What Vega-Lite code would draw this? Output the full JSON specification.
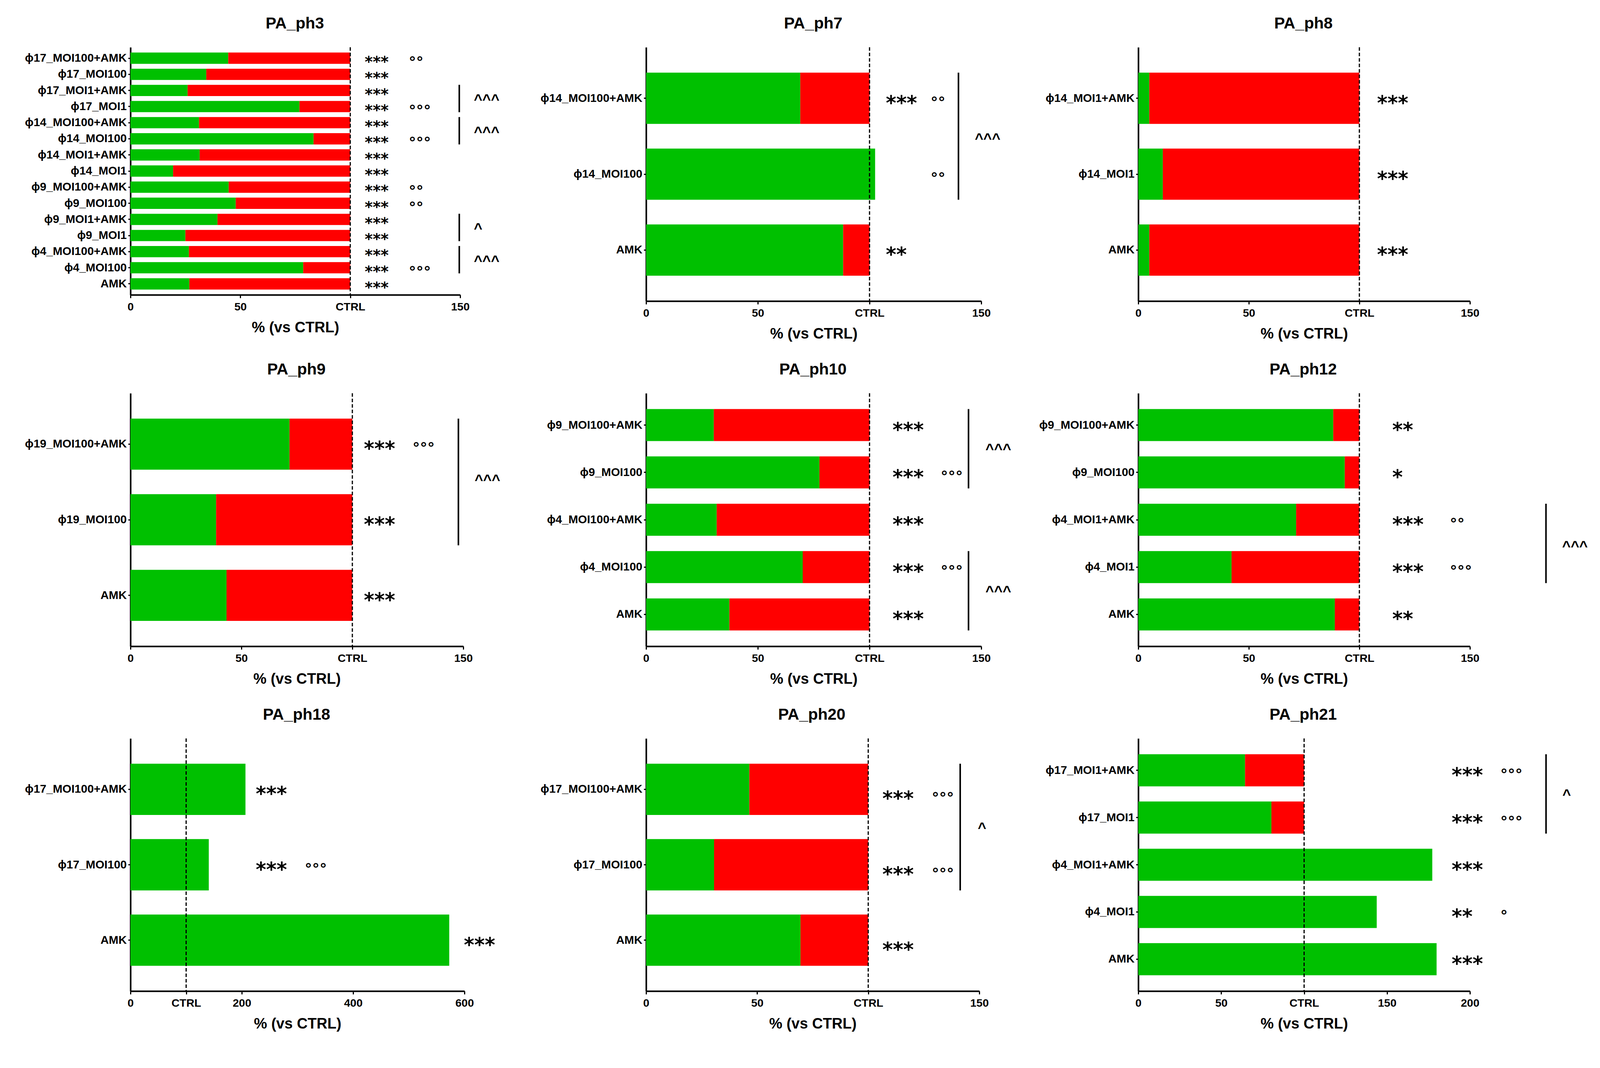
{
"$schema": "https://vega.github.io/schema/vega-lite/v6.json",
"background": "white",
"padding": {"left": 63, "top": 39, "right": 30, "bottom": 40},
"datasets": {
"bars": [
{"panel":"PA_ph3","label":"ϕ17_MOI100+AMK","v":44.5,"stars":"***","circ":"°°"},
{"panel":"PA_ph3","label":"ϕ17_MOI100","v":34.5,"stars":"***","circ":""},
{"panel":"PA_ph3","label":"ϕ17_MOI1+AMK","v":26.0,"stars":"***","circ":""},
{"panel":"PA_ph3","label":"ϕ17_MOI1","v":76.9,"stars":"***","circ":"°°°"},
{"panel":"PA_ph3","label":"ϕ14_MOI100+AMK","v":31.2,"stars":"***","circ":""},
{"panel":"PA_ph3","label":"ϕ14_MOI100","v":83.3,"stars":"***","circ":"°°°"},
{"panel":"PA_ph3","label":"ϕ14_MOI1+AMK","v":31.5,"stars":"***","circ":""},
{"panel":"PA_ph3","label":"ϕ14_MOI1","v":19.4,"stars":"***","circ":""},
{"panel":"PA_ph3","label":"ϕ9_MOI100+AMK","v":44.7,"stars":"***","circ":"°°"},
{"panel":"PA_ph3","label":"ϕ9_MOI100","v":47.9,"stars":"***","circ":"°°"},
{"panel":"PA_ph3","label":"ϕ9_MOI1+AMK","v":39.6,"stars":"***","circ":""},
{"panel":"PA_ph3","label":"ϕ9_MOI1","v":25.0,"stars":"***","circ":""},
{"panel":"PA_ph3","label":"ϕ4_MOI100+AMK","v":26.6,"stars":"***","circ":""},
{"panel":"PA_ph3","label":"ϕ4_MOI100","v":78.6,"stars":"***","circ":"°°°"},
{"panel":"PA_ph3","label":"AMK","v":26.8,"stars":"***","circ":""},
{"panel":"PA_ph7","label":"ϕ14_MOI100+AMK","v":69.0,"stars":"***","circ":"°°"},
{"panel":"PA_ph7","label":"ϕ14_MOI100","v":102.5,"stars":"","circ":"°°"},
{"panel":"PA_ph7","label":"AMK","v":88.2,"stars":"**","circ":""},
{"panel":"PA_ph8","label":"ϕ14_MOI1+AMK","v":5.0,"stars":"***","circ":""},
{"panel":"PA_ph8","label":"ϕ14_MOI1","v":11.1,"stars":"***","circ":""},
{"panel":"PA_ph8","label":"AMK","v":5.0,"stars":"***","circ":""},
{"panel":"PA_ph9","label":"ϕ19_MOI100+AMK","v":71.7,"stars":"***","circ":"°°°"},
{"panel":"PA_ph9","label":"ϕ19_MOI100","v":38.6,"stars":"***","circ":""},
{"panel":"PA_ph9","label":"AMK","v":43.3,"stars":"***","circ":""},
{"panel":"PA_ph10","label":"ϕ9_MOI100+AMK","v":30.3,"stars":"***","circ":""},
{"panel":"PA_ph10","label":"ϕ9_MOI100","v":77.6,"stars":"***","circ":"°°°"},
{"panel":"PA_ph10","label":"ϕ4_MOI100+AMK","v":31.6,"stars":"***","circ":""},
{"panel":"PA_ph10","label":"ϕ4_MOI100","v":70.1,"stars":"***","circ":"°°°"},
{"panel":"PA_ph10","label":"AMK","v":37.3,"stars":"***","circ":""},
{"panel":"PA_ph12","label":"ϕ9_MOI100+AMK","v":88.2,"stars":"**","circ":""},
{"panel":"PA_ph12","label":"ϕ9_MOI100","v":93.4,"stars":"*","circ":""},
{"panel":"PA_ph12","label":"ϕ4_MOI1+AMK","v":71.4,"stars":"***","circ":"°°"},
{"panel":"PA_ph12","label":"ϕ4_MOI1","v":42.2,"stars":"***","circ":"°°°"},
{"panel":"PA_ph12","label":"AMK","v":88.9,"stars":"**","circ":""},
{"panel":"PA_ph18","label":"ϕ17_MOI100+AMK","v":206.6,"stars":"***","circ":""},
{"panel":"PA_ph18","label":"ϕ17_MOI100","v":140.7,"stars":"***","circ":"°°°"},
{"panel":"PA_ph18","label":"AMK","v":572.7,"stars":"***","circ":""},
{"panel":"PA_ph20","label":"ϕ17_MOI100+AMK","v":46.5,"stars":"***","circ":"°°°"},
{"panel":"PA_ph20","label":"ϕ17_MOI100","v":30.6,"stars":"***","circ":"°°°"},
{"panel":"PA_ph20","label":"AMK","v":69.5,"stars":"***","circ":""},
{"panel":"PA_ph21","label":"ϕ17_MOI1+AMK","v":64.4,"stars":"***","circ":"°°°"},
{"panel":"PA_ph21","label":"ϕ17_MOI1","v":80.3,"stars":"***","circ":"°°°"},
{"panel":"PA_ph21","label":"ϕ4_MOI1+AMK","v":177.3,"stars":"***","circ":""},
{"panel":"PA_ph21","label":"ϕ4_MOI1","v":143.8,"stars":"**","circ":"°"},
{"panel":"PA_ph21","label":"AMK","v":179.9,"stars":"***","circ":""}
],
"brackets": [
{"panel":"PA_ph3","from":"ϕ17_MOI1+AMK","to":"ϕ17_MOI1","mark":"^^^"},
{"panel":"PA_ph3","from":"ϕ14_MOI100+AMK","to":"ϕ14_MOI100","mark":"^^^"},
{"panel":"PA_ph3","from":"ϕ9_MOI1+AMK","to":"ϕ9_MOI1","mark":"^"},
{"panel":"PA_ph3","from":"ϕ4_MOI100+AMK","to":"ϕ4_MOI100","mark":"^^^"},
{"panel":"PA_ph7","from":"ϕ14_MOI100+AMK","to":"ϕ14_MOI100","mark":"^^^"},
{"panel":"PA_ph9","from":"ϕ19_MOI100+AMK","to":"ϕ19_MOI100","mark":"^^^"},
{"panel":"PA_ph10","from":"ϕ9_MOI100+AMK","to":"ϕ9_MOI100","mark":"^^^"},
{"panel":"PA_ph10","from":"ϕ4_MOI100","to":"AMK","mark":"^^^"},
{"panel":"PA_ph12","from":"ϕ4_MOI1+AMK","to":"ϕ4_MOI1","mark":"^^^"},
{"panel":"PA_ph20","from":"ϕ17_MOI100+AMK","to":"ϕ17_MOI100","mark":"^"},
{"panel":"PA_ph21","from":"ϕ17_MOI1+AMK","to":"ϕ17_MOI1","mark":"^"}
]
},
"columns": 3,
"bounds": "flush",
"align": "each",
"spacing": {"row": 236, "column": 0},
"concat": [
{
"width": 1320, "height": 634,
"title": {"text": "PA_ph3", "dx": 346},
"layer": [
{"data": {"name": "bars"}, "transform": [{"filter": "datum.panel == 'PA_ph3'"}],
 "mark": {"type": "bar", "color": "#00C000"},
 "encoding": {
  "y": {"field": "label", "type": "nominal", "scale": {"domain": ["ϕ17_MOI100+AMK","ϕ17_MOI100","ϕ17_MOI1+AMK","ϕ17_MOI1","ϕ14_MOI100+AMK","ϕ14_MOI100","ϕ14_MOI1+AMK","ϕ14_MOI1","ϕ9_MOI100+AMK","ϕ9_MOI100","ϕ9_MOI1+AMK","ϕ9_MOI1","ϕ4_MOI100+AMK","ϕ4_MOI100","AMK"], "paddingInner": 0.3, "paddingOuter": 0.33}, "axis": {"title": null}},
  "x": {"field": "v", "type": "quantitative", "scale": {"domain": [0, 150], "range": [0, 844], "nice": false}, "axis": {"title": "% (vs CTRL)", "values": [0, 50, 100, 150], "labelExpr": "datum.value == 100 ? 'CTRL' : datum.label"}}
 }},
{"data": {"name": "bars"}, "transform": [{"filter": "datum.panel == 'PA_ph3' && datum.v < 100"}],
 "mark": {"type": "bar", "color": "#FF0000"},
 "encoding": {"y": {"field": "label", "type": "nominal"}, "x": {"field": "v", "type": "quantitative"}, "x2": {"datum": 100}}},
{"data": {"values": [{}]}, "mark": {"type": "rule", "strokeDash": [9, 5], "strokeWidth": 3, "color": "black"}, "encoding": {"x": {"datum": 100}}},
{"data": {"name": "bars"}, "transform": [{"filter": "datum.panel == 'PA_ph3'"}],
 "mark": {"type": "text", "align": "left", "baseline": "alphabetic", "dy": 23, "font": "DejaVu Sans", "fontWeight": "bold", "fontSize": 39, "color": "black"},
 "encoding": {"y": {"field": "label", "type": "nominal"}, "x": {"datum": 106.6}, "text": {"field": "stars"}}},
{"data": {"name": "bars"}, "transform": [{"filter": "datum.panel == 'PA_ph3'"}],
 "mark": {"type": "text", "align": "left", "baseline": "alphabetic", "dy": 23, "font": "DejaVu Sans", "fontWeight": "bold", "fontSize": 38, "color": "black"},
 "encoding": {"y": {"field": "label", "type": "nominal"}, "x": {"datum": 126.6}, "text": {"field": "circ"}}},
{"data": {"name": "brackets"}, "transform": [{"filter": "datum.panel == 'PA_ph3'"}],
 "mark": {"type": "rule", "strokeWidth": 4, "color": "black"},
 "encoding": {"x": {"datum": 149.6}, "y": {"field": "from", "type": "nominal", "bandPosition": 0}, "y2": {"field": "to", "bandPosition": 1}}},
{"data": {"name": "brackets"}, "transform": [{"filter": "datum.panel == 'PA_ph3'"}],
 "mark": {"type": "text", "align": "left", "baseline": "alphabetic", "dy": 21, "font": "Liberation Sans", "fontWeight": "bold", "fontSize": 37.5, "color": "black"},
 "encoding": {"x": {"datum": 156.2}, "y": {"field": "from", "type": "nominal", "bandPosition": 1}, "text": {"field": "mark"}}}
]
},
{
"width": 1260, "height": 650,
"title": {"text": "PA_ph7", "dx": 353},
"layer": [
{"data": {"name": "bars"}, "transform": [{"filter": "datum.panel == 'PA_ph7'"}],
 "mark": {"type": "bar", "color": "#00C000"},
 "encoding": {
  "y": {"field": "label", "type": "nominal", "scale": {"domain": ["ϕ14_MOI100+AMK","ϕ14_MOI100","AMK"], "paddingInner": 0.325, "paddingOuter": 0.335}, "axis": {"title": null}},
  "x": {"field": "v", "type": "quantitative", "scale": {"domain": [0, 150], "range": [0, 858], "nice": false}, "axis": {"title": "% (vs CTRL)", "values": [0, 50, 100, 150], "labelExpr": "datum.value == 100 ? 'CTRL' : datum.label"}}
 }},
{"data": {"name": "bars"}, "transform": [{"filter": "datum.panel == 'PA_ph7' && datum.v < 100"}],
 "mark": {"type": "bar", "color": "#FF0000"},
 "encoding": {"y": {"field": "label", "type": "nominal"}, "x": {"field": "v", "type": "quantitative"}, "x2": {"datum": 100}}},
{"data": {"values": [{}]}, "mark": {"type": "rule", "strokeDash": [9, 5], "strokeWidth": 3, "color": "black"}, "encoding": {"x": {"datum": 100}}},
{"data": {"name": "bars"}, "transform": [{"filter": "datum.panel == 'PA_ph7'"}],
 "mark": {"type": "text", "align": "left", "baseline": "alphabetic", "dy": 29, "font": "DejaVu Sans", "fontWeight": "bold", "fontSize": 51, "color": "black"},
 "encoding": {"y": {"field": "label", "type": "nominal"}, "x": {"datum": 107.3}, "text": {"field": "stars"}}},
{"data": {"name": "bars"}, "transform": [{"filter": "datum.panel == 'PA_ph7'"}],
 "mark": {"type": "text", "align": "left", "baseline": "alphabetic", "dy": 23, "font": "DejaVu Sans", "fontWeight": "bold", "fontSize": 38, "color": "black"},
 "encoding": {"y": {"field": "label", "type": "nominal"}, "x": {"datum": 127.3}, "text": {"field": "circ"}}},
{"data": {"name": "brackets"}, "transform": [{"filter": "datum.panel == 'PA_ph7'"}],
 "mark": {"type": "rule", "strokeWidth": 4, "color": "black"},
 "encoding": {"x": {"datum": 139.8}, "y": {"field": "from", "type": "nominal", "bandPosition": 0}, "y2": {"field": "to", "bandPosition": 1}}},
{"data": {"name": "brackets"}, "transform": [{"filter": "datum.panel == 'PA_ph7'"}],
 "mark": {"type": "text", "align": "left", "baseline": "alphabetic", "dy": 50, "font": "Liberation Sans", "fontWeight": "bold", "fontSize": 37.5, "color": "black"},
 "encoding": {"x": {"datum": 147.1}, "y": {"field": "from", "type": "nominal", "bandPosition": 1}, "text": {"field": "mark"}}}
]
},
{
"width": 849, "height": 650,
"title": {"text": "PA_ph8", "dx": 348},
"layer": [
{"data": {"name": "bars"}, "transform": [{"filter": "datum.panel == 'PA_ph8'"}],
 "mark": {"type": "bar", "color": "#00C000"},
 "encoding": {
  "y": {"field": "label", "type": "nominal", "scale": {"domain": ["ϕ14_MOI1+AMK","ϕ14_MOI1","AMK"], "paddingInner": 0.325, "paddingOuter": 0.335}, "axis": {"title": null}},
  "x": {"field": "v", "type": "quantitative", "scale": {"domain": [0, 150], "range": [0, 849], "nice": false}, "axis": {"title": "% (vs CTRL)", "values": [0, 50, 100, 150], "labelExpr": "datum.value == 100 ? 'CTRL' : datum.label"}}
 }},
{"data": {"name": "bars"}, "transform": [{"filter": "datum.panel == 'PA_ph8' && datum.v < 100"}],
 "mark": {"type": "bar", "color": "#FF0000"},
 "encoding": {"y": {"field": "label", "type": "nominal"}, "x": {"field": "v", "type": "quantitative"}, "x2": {"datum": 100}}},
{"data": {"values": [{}]}, "mark": {"type": "rule", "strokeDash": [9, 5], "strokeWidth": 3, "color": "black"}, "encoding": {"x": {"datum": 100}}},
{"data": {"name": "bars"}, "transform": [{"filter": "datum.panel == 'PA_ph8'"}],
 "mark": {"type": "text", "align": "left", "baseline": "alphabetic", "dy": 29, "font": "DejaVu Sans", "fontWeight": "bold", "fontSize": 51, "color": "black"},
 "encoding": {"y": {"field": "label", "type": "nominal"}, "x": {"datum": 108.0}, "text": {"field": "stars"}}}
]
},
{
"width": 1320, "height": 648,
"title": {"text": "PA_ph9", "dx": 350},
"layer": [
{"data": {"name": "bars"}, "transform": [{"filter": "datum.panel == 'PA_ph9'"}],
 "mark": {"type": "bar", "color": "#00C000"},
 "encoding": {
  "y": {"field": "label", "type": "nominal", "scale": {"domain": ["ϕ19_MOI100+AMK","ϕ19_MOI100","AMK"], "paddingInner": 0.325, "paddingOuter": 0.335}, "axis": {"title": null}},
  "x": {"field": "v", "type": "quantitative", "scale": {"domain": [0, 150], "range": [0, 852], "nice": false}, "axis": {"title": "% (vs CTRL)", "values": [0, 50, 100, 150], "labelExpr": "datum.value == 100 ? 'CTRL' : datum.label"}}
 }},
{"data": {"name": "bars"}, "transform": [{"filter": "datum.panel == 'PA_ph9' && datum.v < 100"}],
 "mark": {"type": "bar", "color": "#FF0000"},
 "encoding": {"y": {"field": "label", "type": "nominal"}, "x": {"field": "v", "type": "quantitative"}, "x2": {"datum": 100}}},
{"data": {"values": [{}]}, "mark": {"type": "rule", "strokeDash": [9, 5], "strokeWidth": 3, "color": "black"}, "encoding": {"x": {"datum": 100}}},
{"data": {"name": "bars"}, "transform": [{"filter": "datum.panel == 'PA_ph9'"}],
 "mark": {"type": "text", "align": "left", "baseline": "alphabetic", "dy": 29, "font": "DejaVu Sans", "fontWeight": "bold", "fontSize": 51, "color": "black"},
 "encoding": {"y": {"field": "label", "type": "nominal"}, "x": {"datum": 105.2}, "text": {"field": "stars"}}},
{"data": {"name": "bars"}, "transform": [{"filter": "datum.panel == 'PA_ph9'"}],
 "mark": {"type": "text", "align": "left", "baseline": "alphabetic", "dy": 23, "font": "DejaVu Sans", "fontWeight": "bold", "fontSize": 38, "color": "black"},
 "encoding": {"y": {"field": "label", "type": "nominal"}, "x": {"datum": 127.1}, "text": {"field": "circ"}}},
{"data": {"name": "brackets"}, "transform": [{"filter": "datum.panel == 'PA_ph9'"}],
 "mark": {"type": "rule", "strokeWidth": 4, "color": "black"},
 "encoding": {"x": {"datum": 147.8}, "y": {"field": "from", "type": "nominal", "bandPosition": 0}, "y2": {"field": "to", "bandPosition": 1}}},
{"data": {"name": "brackets"}, "transform": [{"filter": "datum.panel == 'PA_ph9'"}],
 "mark": {"type": "text", "align": "left", "baseline": "alphabetic", "dy": 38, "font": "Liberation Sans", "fontWeight": "bold", "fontSize": 37.5, "color": "black"},
 "encoding": {"x": {"datum": 155.1}, "y": {"field": "from", "type": "nominal", "bandPosition": 1}, "text": {"field": "mark"}}}
]
},
{
"width": 1260, "height": 648,
"title": {"text": "PA_ph10", "dx": 341},
"layer": [
{"data": {"name": "bars"}, "transform": [{"filter": "datum.panel == 'PA_ph10'"}],
 "mark": {"type": "bar", "color": "#00C000"},
 "encoding": {
  "y": {"field": "label", "type": "nominal", "scale": {"domain": ["ϕ9_MOI100+AMK","ϕ9_MOI100","ϕ4_MOI100+AMK","ϕ4_MOI100","AMK"], "paddingInner": 0.325, "paddingOuter": 0.335}, "axis": {"title": null}},
  "x": {"field": "v", "type": "quantitative", "scale": {"domain": [0, 150], "range": [0, 858], "nice": false}, "axis": {"title": "% (vs CTRL)", "values": [0, 50, 100, 150], "labelExpr": "datum.value == 100 ? 'CTRL' : datum.label"}}
 }},
{"data": {"name": "bars"}, "transform": [{"filter": "datum.panel == 'PA_ph10' && datum.v < 100"}],
 "mark": {"type": "bar", "color": "#FF0000"},
 "encoding": {"y": {"field": "label", "type": "nominal"}, "x": {"field": "v", "type": "quantitative"}, "x2": {"datum": 100}}},
{"data": {"values": [{}]}, "mark": {"type": "rule", "strokeDash": [9, 5], "strokeWidth": 3, "color": "black"}, "encoding": {"x": {"datum": 100}}},
{"data": {"name": "bars"}, "transform": [{"filter": "datum.panel == 'PA_ph10'"}],
 "mark": {"type": "text", "align": "left", "baseline": "alphabetic", "dy": 29, "font": "DejaVu Sans", "fontWeight": "bold", "fontSize": 51, "color": "black"},
 "encoding": {"y": {"field": "label", "type": "nominal"}, "x": {"datum": 110.3}, "text": {"field": "stars"}}},
{"data": {"name": "bars"}, "transform": [{"filter": "datum.panel == 'PA_ph10'"}],
 "mark": {"type": "text", "align": "left", "baseline": "alphabetic", "dy": 23, "font": "DejaVu Sans", "fontWeight": "bold", "fontSize": 38, "color": "black"},
 "encoding": {"y": {"field": "label", "type": "nominal"}, "x": {"datum": 131.8}, "text": {"field": "circ"}}},
{"data": {"name": "brackets"}, "transform": [{"filter": "datum.panel == 'PA_ph10'"}],
 "mark": {"type": "rule", "strokeWidth": 4, "color": "black"},
 "encoding": {"x": {"datum": 144.3}, "y": {"field": "from", "type": "nominal", "bandPosition": 0}, "y2": {"field": "to", "bandPosition": 1}}},
{"data": {"name": "brackets"}, "transform": [{"filter": "datum.panel == 'PA_ph10'"}],
 "mark": {"type": "text", "align": "left", "baseline": "alphabetic", "dy": 33, "font": "Liberation Sans", "fontWeight": "bold", "fontSize": 37.5, "color": "black"},
 "encoding": {"x": {"datum": 151.9}, "y": {"field": "from", "type": "nominal", "bandPosition": 1}, "text": {"field": "mark"}}}
]
},
{
"width": 849, "height": 648,
"title": {"text": "PA_ph12", "dx": 336},
"layer": [
{"data": {"name": "bars"}, "transform": [{"filter": "datum.panel == 'PA_ph12'"}],
 "mark": {"type": "bar", "color": "#00C000"},
 "encoding": {
  "y": {"field": "label", "type": "nominal", "scale": {"domain": ["ϕ9_MOI100+AMK","ϕ9_MOI100","ϕ4_MOI1+AMK","ϕ4_MOI1","AMK"], "paddingInner": 0.325, "paddingOuter": 0.335}, "axis": {"title": null}},
  "x": {"field": "v", "type": "quantitative", "scale": {"domain": [0, 150], "range": [0, 849], "nice": false}, "axis": {"title": "% (vs CTRL)", "values": [0, 50, 100, 150], "labelExpr": "datum.value == 100 ? 'CTRL' : datum.label"}}
 }},
{"data": {"name": "bars"}, "transform": [{"filter": "datum.panel == 'PA_ph12' && datum.v < 100"}],
 "mark": {"type": "bar", "color": "#FF0000"},
 "encoding": {"y": {"field": "label", "type": "nominal"}, "x": {"field": "v", "type": "quantitative"}, "x2": {"datum": 100}}},
{"data": {"values": [{}]}, "mark": {"type": "rule", "strokeDash": [9, 5], "strokeWidth": 3, "color": "black"}, "encoding": {"x": {"datum": 100}}},
{"data": {"name": "bars"}, "transform": [{"filter": "datum.panel == 'PA_ph12'"}],
 "mark": {"type": "text", "align": "left", "baseline": "alphabetic", "dy": 29, "font": "DejaVu Sans", "fontWeight": "bold", "fontSize": 51, "color": "black"},
 "encoding": {"y": {"field": "label", "type": "nominal"}, "x": {"datum": 114.9}, "text": {"field": "stars"}}},
{"data": {"name": "bars"}, "transform": [{"filter": "datum.panel == 'PA_ph12'"}],
 "mark": {"type": "text", "align": "left", "baseline": "alphabetic", "dy": 23, "font": "DejaVu Sans", "fontWeight": "bold", "fontSize": 38, "color": "black"},
 "encoding": {"y": {"field": "label", "type": "nominal"}, "x": {"datum": 140.9}, "text": {"field": "circ"}}},
{"data": {"name": "brackets"}, "transform": [{"filter": "datum.panel == 'PA_ph12'"}],
 "mark": {"type": "rule", "strokeWidth": 4, "color": "black"},
 "encoding": {"x": {"datum": 184.4}, "y": {"field": "from", "type": "nominal", "bandPosition": 0}, "y2": {"field": "to", "bandPosition": 1}}},
{"data": {"name": "brackets"}, "transform": [{"filter": "datum.panel == 'PA_ph12'"}],
 "mark": {"type": "text", "align": "left", "baseline": "alphabetic", "dy": 39, "font": "Liberation Sans", "fontWeight": "bold", "fontSize": 37.5, "color": "black"},
 "encoding": {"x": {"datum": 191.7}, "y": {"field": "from", "type": "nominal", "bandPosition": 1}, "text": {"field": "mark"}}}
]
},
{
"width": 1320, "height": 647,
"title": {"text": "PA_ph18", "dx": 339},
"layer": [
{"data": {"name": "bars"}, "transform": [{"filter": "datum.panel == 'PA_ph18'"}],
 "mark": {"type": "bar", "color": "#00C000"},
 "encoding": {
  "y": {"field": "label", "type": "nominal", "scale": {"domain": ["ϕ17_MOI100+AMK","ϕ17_MOI100","AMK"], "paddingInner": 0.32, "paddingOuter": 0.335}, "axis": {"title": null}},
  "x": {"field": "v", "type": "quantitative", "scale": {"domain": [0, 600], "range": [0, 855], "nice": false}, "axis": {"title": "% (vs CTRL)", "values": [0, 100, 200, 400, 600], "labelExpr": "datum.value == 100 ? 'CTRL' : datum.label"}}
 }},
{"data": {"values": [{}]}, "mark": {"type": "rule", "strokeDash": [9, 5], "strokeWidth": 3, "color": "black"}, "encoding": {"x": {"datum": 100}}},
{"data": {"name": "bars"}, "transform": [{"filter": "datum.panel == 'PA_ph18' && datum.v < 400"}],
 "mark": {"type": "text", "align": "left", "baseline": "alphabetic", "dy": 29, "font": "DejaVu Sans", "fontWeight": "bold", "fontSize": 51, "color": "black"},
 "encoding": {"y": {"field": "label", "type": "nominal"}, "x": {"datum": 225}, "text": {"field": "stars"}}},
{"data": {"name": "bars"}, "transform": [{"filter": "datum.panel == 'PA_ph18' && datum.v >= 400"}],
 "mark": {"type": "text", "align": "left", "baseline": "alphabetic", "dy": 29, "font": "DejaVu Sans", "fontWeight": "bold", "fontSize": 51, "color": "black"},
 "encoding": {"y": {"field": "label", "type": "nominal"}, "x": {"datum": 599}, "text": {"field": "stars"}}},
{"data": {"name": "bars"}, "transform": [{"filter": "datum.panel == 'PA_ph18'"}],
 "mark": {"type": "text", "align": "left", "baseline": "alphabetic", "dy": 23, "font": "DejaVu Sans", "fontWeight": "bold", "fontSize": 38, "color": "black"},
 "encoding": {"y": {"field": "label", "type": "nominal"}, "x": {"datum": 313}, "text": {"field": "circ"}}}
]
},
{
"width": 1260, "height": 647,
"title": {"text": "PA_ph20", "dx": 338},
"layer": [
{"data": {"name": "bars"}, "transform": [{"filter": "datum.panel == 'PA_ph20'"}],
 "mark": {"type": "bar", "color": "#00C000"},
 "encoding": {
  "y": {"field": "label", "type": "nominal", "scale": {"domain": ["ϕ17_MOI100+AMK","ϕ17_MOI100","AMK"], "paddingInner": 0.32, "paddingOuter": 0.335}, "axis": {"title": null}},
  "x": {"field": "v", "type": "quantitative", "scale": {"domain": [0, 150], "range": [0, 853], "nice": false}, "axis": {"title": "% (vs CTRL)", "values": [0, 50, 100, 150], "labelExpr": "datum.value == 100 ? 'CTRL' : datum.label"}}
 }},
{"data": {"name": "bars"}, "transform": [{"filter": "datum.panel == 'PA_ph20' && datum.v < 100"}],
 "mark": {"type": "bar", "color": "#FF0000"},
 "encoding": {"y": {"field": "label", "type": "nominal"}, "x": {"field": "v", "type": "quantitative"}, "x2": {"datum": 100}}},
{"data": {"values": [{}]}, "mark": {"type": "rule", "strokeDash": [9, 5], "strokeWidth": 3, "color": "black"}, "encoding": {"x": {"datum": 100}}},
{"data": {"name": "bars"}, "transform": [{"filter": "datum.panel == 'PA_ph20'"}],
 "mark": {"type": "text", "align": "left", "baseline": "alphabetic", "dy": 41, "font": "DejaVu Sans", "fontWeight": "bold", "fontSize": 51, "color": "black"},
 "encoding": {"y": {"field": "label", "type": "nominal"}, "x": {"datum": 106.4}, "text": {"field": "stars"}}},
{"data": {"name": "bars"}, "transform": [{"filter": "datum.panel == 'PA_ph20'"}],
 "mark": {"type": "text", "align": "left", "baseline": "alphabetic", "dy": 35, "font": "DejaVu Sans", "fontWeight": "bold", "fontSize": 38, "color": "black"},
 "encoding": {"y": {"field": "label", "type": "nominal"}, "x": {"datum": 128.6}, "text": {"field": "circ"}}},
{"data": {"name": "brackets"}, "transform": [{"filter": "datum.panel == 'PA_ph20'"}],
 "mark": {"type": "rule", "strokeWidth": 4, "color": "black"},
 "encoding": {"x": {"datum": 141.4}, "y": {"field": "from", "type": "nominal", "bandPosition": 0}, "y2": {"field": "to", "bandPosition": 1}}},
{"data": {"name": "brackets"}, "transform": [{"filter": "datum.panel == 'PA_ph20'"}],
 "mark": {"type": "text", "align": "left", "baseline": "alphabetic", "dy": 45, "font": "Liberation Sans", "fontWeight": "bold", "fontSize": 37.5, "color": "black"},
 "encoding": {"x": {"datum": 149.3}, "y": {"field": "from", "type": "nominal", "bandPosition": 1}, "text": {"field": "mark"}}}
]
},
{
"width": 849, "height": 647,
"title": {"text": "PA_ph21", "dx": 336},
"layer": [
{"data": {"name": "bars"}, "transform": [{"filter": "datum.panel == 'PA_ph21'"}],
 "mark": {"type": "bar", "color": "#00C000"},
 "encoding": {
  "y": {"field": "label", "type": "nominal", "scale": {"domain": ["ϕ17_MOI1+AMK","ϕ17_MOI1","ϕ4_MOI1+AMK","ϕ4_MOI1","AMK"], "paddingInner": 0.32, "paddingOuter": 0.335}, "axis": {"title": null}},
  "x": {"field": "v", "type": "quantitative", "scale": {"domain": [0, 200], "range": [0, 849], "nice": false}, "axis": {"title": "% (vs CTRL)", "values": [0, 50, 100, 150, 200], "labelExpr": "datum.value == 100 ? 'CTRL' : datum.label"}}
 }},
{"data": {"name": "bars"}, "transform": [{"filter": "datum.panel == 'PA_ph21' && datum.v < 100"}],
 "mark": {"type": "bar", "color": "#FF0000"},
 "encoding": {"y": {"field": "label", "type": "nominal"}, "x": {"field": "v", "type": "quantitative"}, "x2": {"datum": 100}}},
{"data": {"values": [{}]}, "mark": {"type": "rule", "strokeDash": [9, 5], "strokeWidth": 3, "color": "black"}, "encoding": {"x": {"datum": 100}}},
{"data": {"name": "bars"}, "transform": [{"filter": "datum.panel == 'PA_ph21'"}],
 "mark": {"type": "text", "align": "left", "baseline": "alphabetic", "dy": 29, "font": "DejaVu Sans", "fontWeight": "bold", "fontSize": 51, "color": "black"},
 "encoding": {"y": {"field": "label", "type": "nominal"}, "x": {"datum": 189}, "text": {"field": "stars"}}},
{"data": {"name": "bars"}, "transform": [{"filter": "datum.panel == 'PA_ph21'"}],
 "mark": {"type": "text", "align": "left", "baseline": "alphabetic", "dy": 23, "font": "DejaVu Sans", "fontWeight": "bold", "fontSize": 38, "color": "black"},
 "encoding": {"y": {"field": "label", "type": "nominal"}, "x": {"datum": 218.3}, "text": {"field": "circ"}}},
{"data": {"name": "brackets"}, "transform": [{"filter": "datum.panel == 'PA_ph21'"}],
 "mark": {"type": "rule", "strokeWidth": 4, "color": "black"},
 "encoding": {"x": {"datum": 245.9}, "y": {"field": "from", "type": "nominal", "bandPosition": 0}, "y2": {"field": "to", "bandPosition": 1}}},
{"data": {"name": "brackets"}, "transform": [{"filter": "datum.panel == 'PA_ph21'"}],
 "mark": {"type": "text", "align": "left", "baseline": "alphabetic", "dy": 33, "font": "Liberation Sans", "fontWeight": "bold", "fontSize": 37.5, "color": "black"},
 "encoding": {"x": {"datum": 255.8}, "y": {"field": "from", "type": "nominal", "bandPosition": 1}, "text": {"field": "mark"}}}
]
}
],
"config": {
 "view": {"stroke": null},
 "font": "Liberation Sans",
 "axis": {"grid": false, "domainColor": "black", "domainWidth": 4, "tickColor": "black", "tickWidth": 3, "tickSize": 8, "labelFont": "Liberation Sans, DejaVu Sans, sans-serif", "labelFontWeight": "bold", "labelFontSize": 28.5, "labelColor": "black", "labelOverlap": false, "labelFlush": false, "labelLimit": 600, "titleFont": "Liberation Sans", "titleFontWeight": "bold", "titleFontSize": 38, "titleColor": "black"},
 "axisY": {"labelPadding": 4, "tickSize": 6, "labelFontSize": 29.5},
 "axisX": {"labelPadding": 8, "titlePadding": 21},
 "title": {"font": "Liberation Sans", "fontSize": 41, "fontWeight": "bold", "color": "black", "anchor": "start", "frame": "group", "baseline": "alphabetic", "offset": 38}
}
}
